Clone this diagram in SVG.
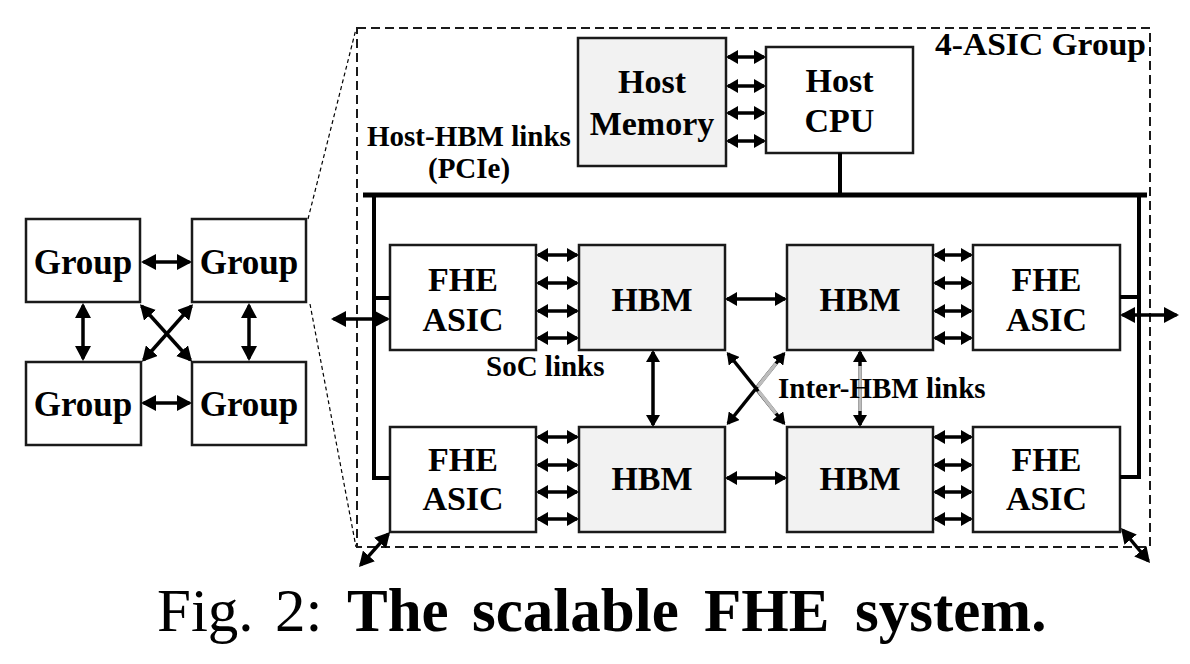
<svg xmlns="http://www.w3.org/2000/svg" width="1190" height="664" viewBox="0 0 1190 664">
<style>
.box{fill:#fff;stroke:#1a1a1a;stroke-width:2.5}
.mem{fill:#f2f2f2;stroke:#1a1a1a;stroke-width:2.5}
.t{font-family:"Liberation Serif","Times New Roman",serif;font-weight:bold;fill:#000}
.n{font-size:34px;text-anchor:middle}
.g{font-size:35px;text-anchor:middle}
.l{font-size:29px}
.ar{stroke:#000;stroke-width:3.5;fill:none;marker-start:url(#a);marker-end:url(#a)}
.ab{stroke:#000;stroke-width:3.5;fill:none;marker-start:url(#b);marker-end:url(#b)}
.bus{stroke:#000;fill:none}
.gr{stroke:#bdbdbd;stroke-width:3.6;fill:none}
</style>
<defs>
<marker id="a" viewBox="0 0 12 14" markerWidth="12" markerHeight="14" refX="10" refY="7" orient="auto-start-reverse" markerUnits="userSpaceOnUse"><path d="M0,0 L12,7 L0,14 z" fill="#000"/></marker>
<marker id="b" viewBox="0 0 15 16" markerWidth="15" markerHeight="16" refX="12.5" refY="8" orient="auto-start-reverse" markerUnits="userSpaceOnUse"><path d="M0,0 L15,8 L0,16 z" fill="#000"/></marker>
</defs>
<rect width="1190" height="664" fill="#fff"/>

<!-- zoom guide lines and group frame -->
<g id="frame">
<line x1="308" y1="219" x2="356" y2="29" stroke="#000" stroke-width="1.2" stroke-dasharray="4 3"/>
<line x1="310" y1="304" x2="356" y2="547" stroke="#000" stroke-width="1.2" stroke-dasharray="4 3"/>
<rect x="357" y="28" width="793" height="519" fill="none" stroke="#1a1a1a" stroke-width="2" stroke-dasharray="9 5"/>
<text class="t" x="935" y="55" font-size="31" textLength="211" lengthAdjust="spacingAndGlyphs">4-ASIC Group</text>
</g>

<!-- left overview groups -->
<g id="group-tl"><rect class="box" x="26" y="219" width="114" height="83"/><text class="t g" x="83" y="274">Group</text></g>
<g id="group-tr"><rect class="box" x="192" y="219" width="114" height="83"/><text class="t g" x="249" y="274">Group</text></g>
<g id="group-bl"><rect class="box" x="26" y="362" width="115" height="83"/><text class="t g" x="83" y="416">Group</text></g>
<g id="group-br"><rect class="box" x="192" y="362" width="114" height="83"/><text class="t g" x="249" y="416">Group</text></g>

<!-- host -->
<g id="host-memory"><rect class="mem" x="578" y="38" width="148" height="128"/><text class="t n" x="652" y="93">Host</text><text class="t n" x="652" y="135">Memory</text></g>
<g id="host-cpu"><rect class="box" x="766" y="47" width="147" height="106"/><text class="t n" x="839.5" y="92">Host</text><text class="t n" x="839.5" y="132">CPU</text></g>

<!-- ASIC group nodes -->
<g id="fhe-tl"><rect class="box" x="390" y="245" width="146" height="105"/><text class="t n" x="463" y="291">FHE</text><text class="t n" x="463" y="331">ASIC</text></g>
<g id="fhe-bl"><rect class="box" x="390" y="427" width="146" height="105"/><text class="t n" x="463" y="471">FHE</text><text class="t n" x="463" y="510">ASIC</text></g>
<g id="fhe-tr"><rect class="box" x="973" y="245" width="147" height="105"/><text class="t n" x="1046.5" y="291">FHE</text><text class="t n" x="1046.5" y="331">ASIC</text></g>
<g id="fhe-br"><rect class="box" x="973" y="427" width="147" height="105"/><text class="t n" x="1046.5" y="471">FHE</text><text class="t n" x="1046.5" y="510">ASIC</text></g>
<g id="hbm-tl"><rect class="mem" x="579" y="245" width="146" height="105"/><text class="t n" x="652" y="311">HBM</text></g>
<g id="hbm-bl"><rect class="mem" x="579" y="427" width="146" height="105"/><text class="t n" x="652" y="490">HBM</text></g>
<g id="hbm-tr"><rect class="mem" x="787" y="245" width="146" height="105"/><text class="t n" x="860" y="311">HBM</text></g>
<g id="hbm-br"><rect class="mem" x="787" y="427" width="146" height="105"/><text class="t n" x="860" y="490">HBM</text></g>

<!-- connectors -->
<g id="connectors">
<!-- overview -->
<line class="ab" x1="143.5" y1="262" x2="189.5" y2="262"/>
<line class="ab" x1="143.5" y1="403" x2="189.5" y2="403"/>
<line class="ab" x1="83" y1="305.5" x2="83" y2="358.5"/>
<line class="ab" x1="249" y1="305.5" x2="249" y2="358.5"/>
<line class="ab" x1="141.6" y1="306" x2="190.4" y2="360"/>
<line class="ab" x1="191.4" y1="306" x2="143.6" y2="360"/>
<!-- host memory - cpu -->
<line class="ar" x1="728" y1="57" x2="764" y2="57"/>
<line class="ar" x1="728" y1="86" x2="764" y2="86"/>
<line class="ar" x1="728" y1="113" x2="764" y2="113"/>
<line class="ar" x1="728" y1="141" x2="764" y2="141"/>
<!-- bus -->
<line class="bus" x1="840" y1="153" x2="840" y2="195" stroke-width="4"/>
<line class="bus" x1="363" y1="195" x2="1147" y2="195" stroke-width="5"/>
<polyline class="bus" points="374,195 374,478 390,478" stroke-width="4"/>
<line class="bus" x1="374" y1="298" x2="390" y2="298" stroke-width="4"/>
<polyline class="bus" points="1139,195 1139,477 1120,477" stroke-width="4"/>
<line class="bus" x1="1120" y1="297" x2="1139" y2="297" stroke-width="4"/>
<!-- SoC links left -->
<line class="ar" x1="538" y1="255" x2="577" y2="255"/>
<line class="ar" x1="538" y1="283" x2="577" y2="283"/>
<line class="ar" x1="538" y1="311" x2="577" y2="311"/>
<line class="ar" x1="538" y1="338" x2="577" y2="338"/>
<line class="ar" x1="538" y1="437" x2="577" y2="437"/>
<line class="ar" x1="538" y1="465" x2="577" y2="465"/>
<line class="ar" x1="538" y1="492" x2="577" y2="492"/>
<line class="ar" x1="538" y1="519" x2="577" y2="519"/>
<!-- SoC links right -->
<line class="ar" x1="935" y1="255" x2="971" y2="255"/>
<line class="ar" x1="935" y1="283" x2="971" y2="283"/>
<line class="ar" x1="935" y1="311" x2="971" y2="311"/>
<line class="ar" x1="935" y1="338" x2="971" y2="338"/>
<line class="ar" x1="935" y1="437" x2="971" y2="437"/>
<line class="ar" x1="935" y1="465" x2="971" y2="465"/>
<line class="ar" x1="935" y1="492" x2="971" y2="492"/>
<line class="ar" x1="935" y1="519" x2="971" y2="519"/>
<!-- inter-HBM -->
<line class="ar" x1="727" y1="299" x2="785" y2="299"/>
<line class="ar" x1="727" y1="478" x2="785" y2="478"/>
<line class="ar" x1="653" y1="352" x2="653" y2="425"/>
<line class="ar" x1="860" y1="352" x2="860" y2="425"/>
<line class="ar" x1="728" y1="353.5" x2="784" y2="423.5"/>
<line class="ar" x1="784" y1="353.5" x2="728" y2="423.5"/>
<line class="gr" x1="860" y1="366" x2="860" y2="411"/>
<line class="gr" x1="776" y1="363.5" x2="757.5" y2="387"/>
<line class="gr" x1="758.5" y1="391" x2="776" y2="413.5"/>
<!-- external links -->
<line class="ab" x1="333.5" y1="319" x2="387.5" y2="319"/>
<line class="ab" x1="1122.5" y1="315" x2="1176.5" y2="315"/>
<line class="ab" x1="388.4" y1="533.8" x2="360.6" y2="565.2"/>
<line class="ab" x1="1122.6" y1="530" x2="1148.4" y2="561"/>
</g>

<!-- labels -->
<g id="labels">
<text class="t l" x="367" y="146">Host-HBM links</text>
<text class="t l" x="428" y="178">(PCIe)</text>
<text class="t l" x="486" y="376">SoC links</text>
<text class="t l" x="778" y="398">Inter-HBM links</text>
</g>

<!-- caption -->
<text font-family="'Liberation Serif','Times New Roman',serif" font-size="61" y="631" fill="#000"><tspan x="157">Fig.</tspan><tspan x="275">2:</tspan><tspan x="347" font-weight="bold">The</tspan><tspan x="472" font-weight="bold">scalable</tspan><tspan x="704" font-weight="bold">FHE</tspan><tspan x="855" font-weight="bold">system.</tspan></text>
</svg>
